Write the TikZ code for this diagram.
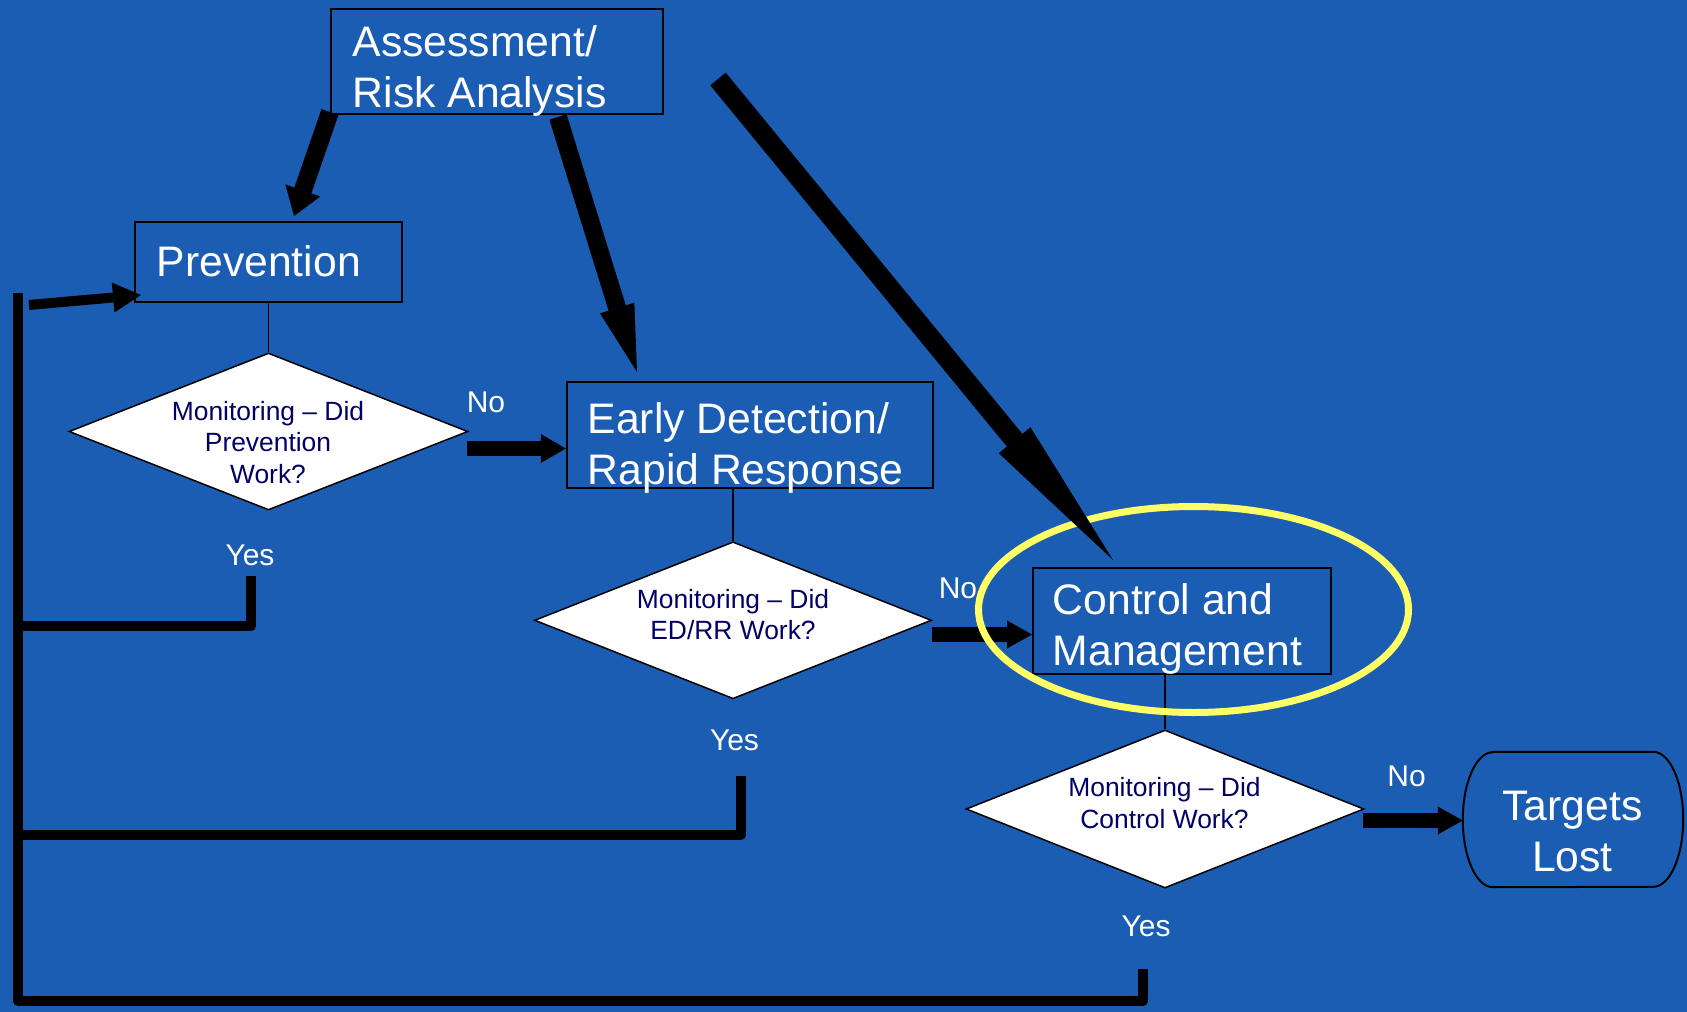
\documentclass[tikz,border=0pt]{standalone}
\usepackage{fontspec}
\setmainfont{Liberation Sans}
\usetikzlibrary{arrows.meta,shapes.geometric}
\definecolor{bgblue}{RGB}{28,93,180}
\definecolor{hlyellow}{RGB}{255,255,102}
\definecolor{navy}{RGB}{0,0,102}
\begin{document}
\begin{tikzpicture}[x=1pt,y=-1pt,
  box/.style={draw=black, line width=2pt, rectangle, inner sep=0pt},
  dia/.style={diamond, draw=black, fill=white, line width=1.5pt, inner sep=0pt},
  bigtext/.style={text=white, font=\fontsize{42.7}{51}\selectfont, inner sep=0pt, align=left},
  ctext/.style={text=white, font=\fontsize{42.7}{51}\selectfont, inner sep=0pt, align=center},
  dtext/.style={text=navy, font=\fontsize{26.4}{31.5}\selectfont, inner sep=0pt, align=center},
  yn/.style={text=white, font=\fontsize{30}{36}\selectfont, inner sep=0pt, anchor=base},
  link/.style={draw=black, line width=1.5pt},
  ret/.style={draw=black, line width=10pt, line join=round},
  bigarrow/.style={draw=black, line width=#1},
]
\fill[bgblue] (0,0) rectangle (1687,1012);
\useasboundingbox (0,0) rectangle (1687,1012);

% boxes
\node[box, minimum width=332pt, minimum height=105pt] (assess) at (497,61.5) {};
\node[box, minimum width=267pt, minimum height=80pt] (prev) at (268.5,262) {};
\node[box, minimum width=366pt, minimum height=106.6pt] (ed) at (749.8,435) {};
\node[box, minimum width=298pt, minimum height=106pt] (ctrl) at (1182,621) {};
\node[minimum width=220pt, minimum height=135pt, inner sep=0pt] (lost) at (1573,819.5) {};
\draw[line width=2pt] ([xshift=30pt]lost.north west) -- ([xshift=-30pt]lost.north east)
  arc[start angle=90,end angle=-90,x radius=30pt,y radius=67.5pt]
  -- ([xshift=30pt]lost.south west)
  arc[start angle=270,end angle=90,x radius=30pt,y radius=67.5pt] -- cycle;

% decisions
\node[dia, minimum width=399pt, minimum height=157pt] (d1) at (268.5,431.5) {};
\node[dia, minimum width=397pt, minimum height=157pt] (d2) at (733,620.3) {};
\node[dia, minimum width=398pt, minimum height=158pt] (d3) at (1165,809) {};

% thin links
\draw[link] (prev.south) -- (d1.north);
\draw[link] (d2.north) -- (d2.north |- ed.south);
\draw[link] (d3.north) -- (d3.north |- ctrl.south);

% texts
\node[bigtext, anchor=west] (assesst) at (352.5,71.3) {\strut Assessment/\\\strut Risk Analysis};
\node[bigtext, anchor=west] (prevt) at (156.5,265.8) {\strut Prevention};
\node[bigtext, anchor=west] (edt) at (587.5,448.3) {\strut Early Detection/\\\strut Rapid Response};
\node[bigtext, anchor=west] (ctrlt) at (1052.5,629.8) {\strut Control and\\\strut Management};
\node[ctext] (lostt) at (1572.5,836) {\strut Targets\\\strut Lost};

\node[dtext] (d1t) at (268,445.4) {\strut Monitoring – Did\\\strut Prevention\\\strut Work?};
\node[dtext] (d2t) at (733,617.9) {\strut Monitoring – Did\\\strut ED/RR Work?};
\node[dtext] (d3t) at (1164.5,806.2) {\strut Monitoring – Did\\\strut Control Work?};

\node[yn] (yes1) at (250,565) {Yes};
\node[yn] (no1) at (486,412.7) {No};
\node[yn] (yes2) at (734.5,750) {Yes};
\node[yn] (no2) at (958,598.3) {No};
\node[yn] (yes3) at (1146,936) {Yes};
\node[yn] (no3) at (1406.5,786) {No};

% coordinates
\coordinate (a1s) at (330,112);
\coordinate (a1e) at (294,216);
\coordinate (a2s) at (558,117);
\coordinate (a2e) at (637,372);
\coordinate (a3s) at (718,79);
\coordinate (a3e) at (1113,560);
\coordinate (n1s) at (467,448.5);
\coordinate (n2s) at (932,634.5);
\coordinate (n3s) at (1363,820.5);
\coordinate (ls) at (29,305);
\coordinate (le) at (141,295);
\coordinate (r1) at (251,576);
\coordinate (r2) at (741,776);
\coordinate (r3) at (1143,969);
\coordinate (top) at (18,293);

% return lines
\draw[ret] (r1) |- (18,626);
\draw[ret] (r2) |- (18,834.5);
\draw[ret] (r3) |- (18,1001) -- (top);

% arrows
\draw[bigarrow=15pt, -{Triangle[length=25pt,width=29pt,line width=0pt]}] (n1s) -- (n1s -| ed.west);
\draw[bigarrow=15pt, -{Triangle[length=25pt,width=28pt,line width=0pt]}] (n2s) -- (n2s -| ctrl.west);
\draw[bigarrow=15pt, -{Triangle[length=25pt,width=28pt,line width=0pt]}] (n3s) -- (n3s -| lost.west);
\draw[bigarrow=10pt, -{Triangle[length=28pt,width=30pt,line width=0pt]}] (ls) -- (le);
\draw[bigarrow=18pt, -{Triangle[length=27pt,width=37pt,line width=0pt]}] (a1s) -- (a1e);
\draw[bigarrow=18pt, -{Triangle[length=67pt,width=36pt,line width=0pt]}] (a2s) -- (a2e);

% highlight
\node[ellipse, draw=hlyellow, line width=7pt, minimum width=430pt, minimum height=206pt, inner sep=0pt] (hl) at (1193.5,609.5) {};

\draw[bigarrow=20pt, -{Triangle[length=155pt,width=41pt,line width=0pt]}] (a3s) -- (a3e);
\end{tikzpicture}
\end{document}
